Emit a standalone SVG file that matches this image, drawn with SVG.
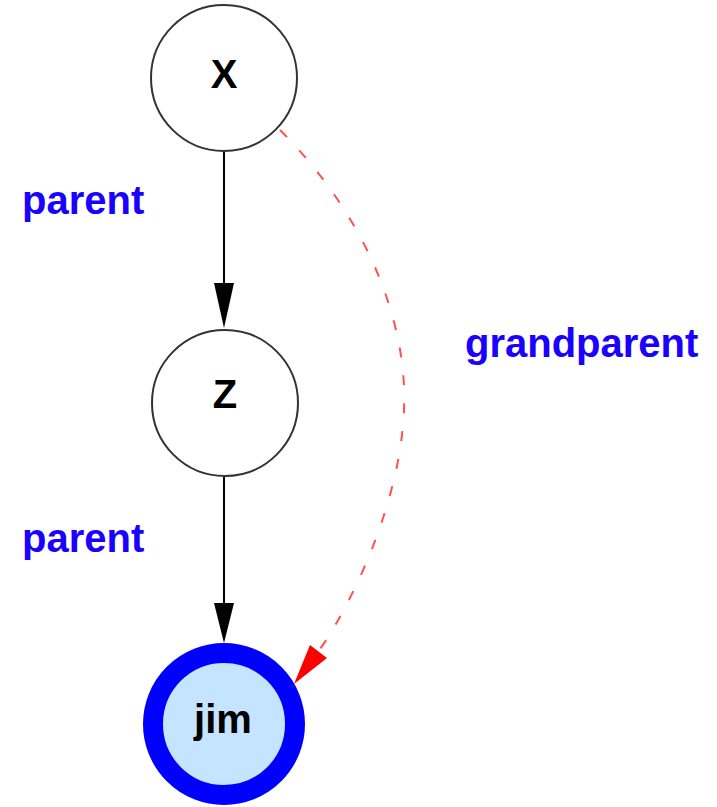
<svg xmlns="http://www.w3.org/2000/svg" width="717" height="807" viewBox="0 0 717 807">
<style>
.node circle{fill:#fff;stroke:#333;stroke-width:2}
.node text{font-family:"Liberation Sans",Arial,sans-serif;font-weight:bold;font-size:40px;fill:#000;text-anchor:middle}
.lbl{font-family:"Liberation Sans",Arial,sans-serif;font-weight:bold;font-size:40px;fill:#1a00ff}
.e{fill:none;stroke:#000;stroke-width:2}
.dash{fill:none;stroke:#ff5050;stroke-width:2;stroke-dasharray:10,18}
</style>
<rect width="717" height="807" fill="#fff"/>
<g id="connectors">
<line class="e" x1="224" y1="151" x2="224" y2="286"/>
<polygon points="214,283 234,283 224,328" fill="#000"/>
<line class="e" x1="224" y1="477" x2="224" y2="606"/>
<polygon points="214,603 234,603 224,643" fill="#000"/>
<path class="dash" d="M280,130 C365,215 408,320 404,410 C400,510 345,615 318,652"/>
<polygon points="310,645 327,658 294,684" fill="#ff0000"/>
<text class="lbl" x="22" y="214">parent</text>
<text class="lbl" x="22" y="552">parent</text>
<text class="lbl" x="465" y="357">grandparent</text>
</g>
<g id="X" class="node">
<circle cx="224" cy="78" r="73"/>
<text x="224" y="88">X</text>
</g>
<g id="Z" class="node">
<circle cx="225" cy="403" r="73"/>
<text x="225" y="408">Z</text>
</g>
<g id="jim" class="node">
<circle cx="224" cy="724" r="71" style="fill:#c4e4ff;stroke:#0000ff;stroke-width:20"/>
<text x="223" y="733">jim</text>
</g>
</svg>
